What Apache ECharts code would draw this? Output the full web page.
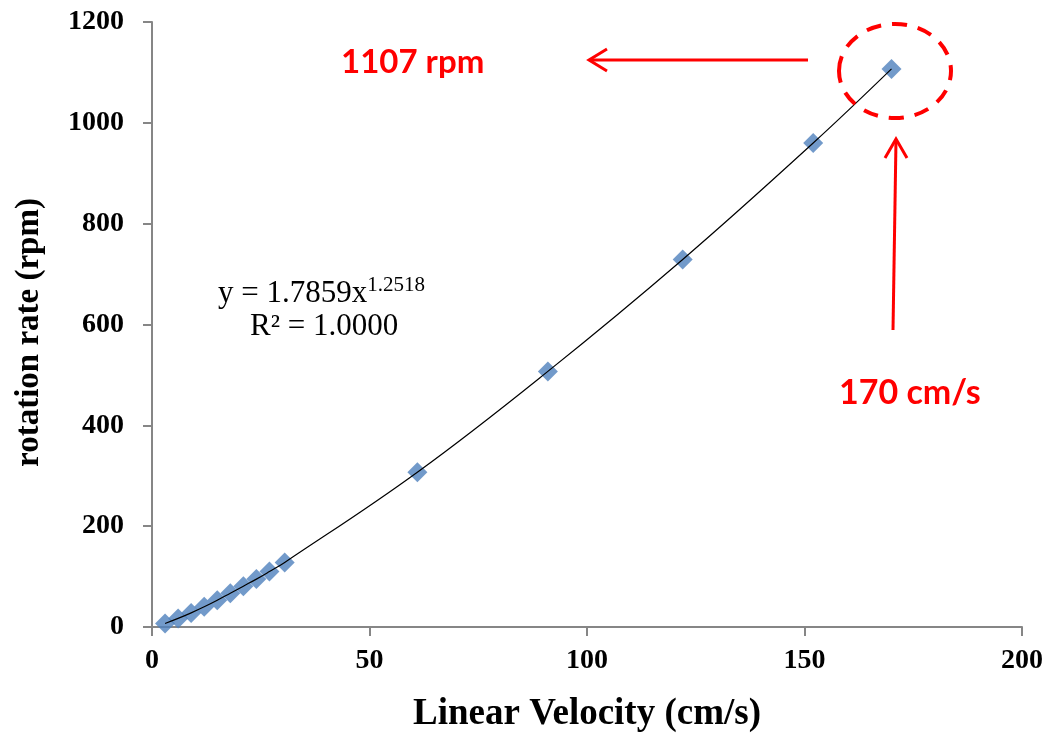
<!DOCTYPE html>
<html>
<head>
<meta charset="utf-8">
<script src="https://cdn.jsdelivr.net/npm/echarts@6/dist/echarts.min.js"></script>
<style>
  html, body { margin: 0; padding: 0; background: #fff; }
  #chart { width: 1054px; height: 740px; }
</style>
</head>
<body>
<div id="chart"></div>
<script>
// linear velocity (cm/s) vs rotation rate (rpm)
const velocity = [3, 6, 9, 12, 15, 18, 21, 24, 27, 30.5, 61, 91, 122, 152, 170];
const rotation = [7, 17, 28, 40, 53, 67, 81, 95, 110, 128, 307, 507, 729, 960, 1107];
const xTicks = [0, 50, 100, 150, 200];
const yTicks = [0, 200, 400, 600, 800, 1000, 1200];

const points = velocity.map((v, i) => [v, rotation[i]]);

const AXIS_COLOR = "#868686";
const RED = "#ff0000";
const SERIF = "'Liberation Serif', 'Times New Roman', serif";
const SANS = "Lato, 'Open Sans', sans-serif";

const chart = echarts.init(document.getElementById("chart"));

chart.setOption({
  animation: false,
  backgroundColor: "#fff",
  grid: { left: 152, right: 32, top: 22, bottom: 113 },
  xAxis: {
    type: "value",
    min: xTicks[0],
    max: xTicks[xTicks.length - 1],
    interval: 50,
    name: "Linear Velocity (cm/s)",
    nameLocation: "middle",
    nameGap: 69,
    nameTextStyle: { fontFamily: SERIF, fontWeight: "bold", fontSize: 37, color: "#000" },
    axisLine: { lineStyle: { color: AXIS_COLOR, width: 2 } },
    axisTick: { show: true, length: 9, lineStyle: { color: AXIS_COLOR, width: 2 } },
    axisLabel: {
      fontFamily: SERIF, fontWeight: "bold", fontSize: 28, color: "#000", margin: 20,
      formatter: (v) => String(v),
    },
    splitLine: { show: false },
  },
  yAxis: {
    type: "value",
    min: yTicks[0],
    max: yTicks[yTicks.length - 1],
    interval: 200,
    name: "rotation rate (rpm)",
    nameLocation: "middle",
    nameRotate: 90,
    nameGap: 106,
    nameTextStyle: { fontFamily: SERIF, fontWeight: "bold", fontSize: 33, color: "#000", padding: [0, 16, 0, 0] },
    axisLine: { show: true, lineStyle: { color: AXIS_COLOR, width: 2 } },
    axisTick: { show: true, length: 9, lineStyle: { color: AXIS_COLOR, width: 2 } },
    axisLabel: {
      fontFamily: SERIF, fontWeight: "bold", fontSize: 28, color: "#000", margin: 28,
      formatter: (v) => String(v),
    },
    splitLine: { show: false },
  },
  series: [
    {
      name: "fit",
      type: "line",
      data: points,
      smooth: 0.4,
      symbol: "none",
      lineStyle: { color: "#000", width: 1.2 },
      z: 3,
    },
    {
      name: "data",
      type: "scatter",
      data: points,
      symbol: "diamond",
      symbolSize: 20,
      itemStyle: { color: "#4f81bd" },
      z: 2,
    },
  ],
  graphic: [
    {
      type: "text",
      x: 218,
      y: 292,
      style: {
        text: "{b|y = 1.7859x}{s|1.2518}",
        verticalAlign: "middle",
        rich: {
          b: { fontFamily: SERIF, fontSize: 31, color: "#000", lineHeight: 34, verticalAlign: "bottom" },
          s: { fontFamily: SERIF, fontSize: 21, color: "#000", verticalAlign: "top" },
        },
      },
    },
    {
      type: "text",
      x: 250,
      y: 327,
      style: {
        text: "R\u00b2 = 1.0000",
        fontFamily: SERIF,
        fontSize: 31,
        fill: "#000",
        verticalAlign: "middle",
      },
    },
    {
      type: "ellipse",
      shape: { cx: 895, cy: 71, rx: 56, ry: 47 },
      style: { fill: "none", stroke: RED, lineWidth: 4, lineDash: [15, 11] },
      z: 10,
    },
    {
      type: "line",
      shape: { x1: 808, y1: 60, x2: 590, y2: 60 },
      style: { stroke: RED, lineWidth: 3 },
    },
    {
      type: "polyline",
      shape: { points: [[607, 49], [589, 60], [607, 71]] },
      style: { stroke: RED, lineWidth: 3, fill: "none" },
    },
    {
      type: "text",
      x: 341,
      y: 62,
      style: { text: "1107 rpm", fontFamily: SANS, fontWeight: "bold", fontSize: 33, fill: RED, verticalAlign: "middle" },
    },
    {
      type: "line",
      shape: { x1: 893, y1: 330, x2: 896, y2: 140 },
      style: { stroke: RED, lineWidth: 3 },
    },
    {
      type: "polyline",
      shape: { points: [[885, 158], [896, 139], [907, 158]] },
      style: { stroke: RED, lineWidth: 3, fill: "none" },
    },
    {
      type: "text",
      x: 839,
      y: 393,
      style: { text: "170 cm/s", fontFamily: SANS, fontWeight: "bold", fontSize: 34, fill: RED, verticalAlign: "middle" },
    },
  ],
});
</script>
</body>
</html>
